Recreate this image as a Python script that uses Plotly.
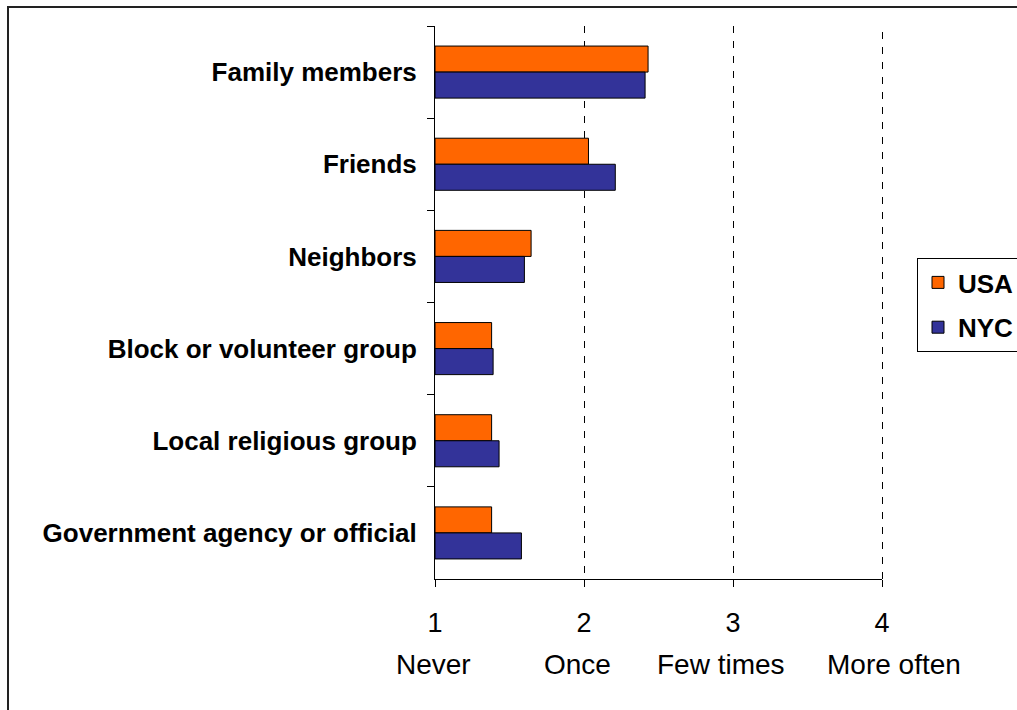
import plotly.graph_objects as go

# Sources of help, average frequency (1 = Never ... 4 = More often)
categories = [
    "Family members",
    "Friends",
    "Neighbors",
    "Block or volunteer group",
    "Local religious group",
    "Government agency or official",
]
usa_values = [2.43, 2.03, 1.645, 1.38, 1.38, 1.38]
nyc_values = [2.41, 2.21, 1.60, 1.39, 1.43, 1.58]

x_ticks = [1, 2, 3, 4]
x_tick_labels = ["1", "2", "3", "4"]
frequency_labels = ["Never", "Once", "Few times", "More often"]

FONT = "Liberation Sans, Arial, sans-serif"
ORANGE = "#FF6600"
NAVY = "#333399"
SCALE_START = 1

fig = go.Figure()

for name, values, color in [("USA", usa_values, ORANGE), ("NYC", nyc_values, NAVY)]:
    fig.add_trace(go.Bar(
        y=categories,
        x=[v - SCALE_START for v in values],
        base=SCALE_START,
        name=name, orientation="h",
        marker=dict(color=color, line=dict(color="#000000", width=1)),
        legendgroup=name,
    ))

L, R, T, B = 435, 135, 26, 131
W, H = 1017, 710
pw, ph = W - L - R, H - T - B


def px_to_paper_x(px):
    return (px - L) / pw


def px_to_paper_y(py):
    return (H - B - py) / ph


# Frequency words under the numeric scale
label_shift = [-2, -7, -12, 12]
annotations = []
for xv, txt, dx in zip(x_ticks, frequency_labels, label_shift):
    annotations.append(dict(
        x=xv, y=px_to_paper_y(664), xref="x", yref="paper",
        text=txt, showarrow=False, xanchor="center", yanchor="middle",
        xshift=dx, font=dict(family=FONT, size=28, color="#000000"),
    ))

fig.update_layout(
    width=W, height=H,
    margin=dict(l=L, r=R, t=T, b=B, pad=0, autoexpand=False),
    paper_bgcolor="#FFFFFF", plot_bgcolor="#FFFFFF",
    barmode="group", bargap=0.435, bargroupgap=0,
    font=dict(family=FONT, color="#000000"),
    showlegend=True,
    legend=dict(
        x=px_to_paper_x(917), y=px_to_paper_y(258),
        xanchor="left", yanchor="top",
        traceorder="grouped", tracegroupgap=8,
        bordercolor="#000000", borderwidth=1, bgcolor="#FFFFFF",
        font=dict(family=FONT, size=26, color="#000000", weight="bold"),
        entrywidth=110, itemwidth=30,
    ),
    xaxis=dict(
        range=[1, 4], tickmode="array", tickvals=x_ticks, ticktext=x_tick_labels,
        showgrid=True, gridcolor="#000000", gridwidth=1, griddash="7px,8px",
        showline=True, linecolor="#000000", linewidth=1,
        ticks="outside", ticklen=7, tickcolor="#000000",
        tickfont=dict(family=FONT, size=27, color="#000000"),
        ticklabelstandoff=13,
        zeroline=False, fixedrange=True,
    ),
    yaxis=dict(
        categoryorder="array", categoryarray=categories, autorange="reversed",
        showline=True, linecolor="#000000", linewidth=1,
        ticks="outside", ticklen=7, tickcolor="#000000", tickson="boundaries",
        tickfont=dict(family=FONT, size=26, color="#000000", weight="bold"),
        ticklabelstandoff=12,
        showgrid=False, zeroline=False, fixedrange=True,
    ),
    annotations=annotations,
    shapes=[
        # dashed gridline at the right end of the scale (half-pixel for a crisp stroke)
        dict(type="line", xref="paper", yref="paper",
             x0=1 + 0.5 / pw, x1=1 + 0.5 / pw, y0=0, y1=1,
             line=dict(color="#000000", width=1, dash="7px,8px"), layer="below"),
        # outer chart frame
        dict(type="rect", xref="paper", yref="paper",
             x0=px_to_paper_x(8), x1=px_to_paper_x(1040),
             y0=px_to_paper_y(740), y1=px_to_paper_y(7),
             line=dict(color="#222222", width=2), fillcolor="rgba(0,0,0,0)",
             layer="above"),
    ],
)

fig.write_html("out.html")
